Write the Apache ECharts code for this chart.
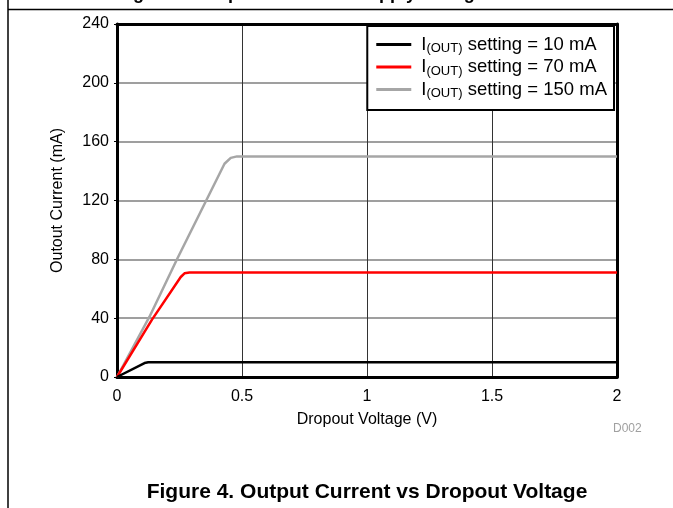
<!DOCTYPE html>
<html>
<head>
<meta charset="utf-8">
<style>
  html, body { margin: 0; padding: 0; background: #fff; }
  #chart { width: 673px; height: 508px; }
</style>
<script src="https://cdn.jsdelivr.net/npm/echarts@6/dist/echarts.min.js"></script>
</head>
<body>
<div id="chart"></div>
<script>
// 数据：电压 (V) 与输出电流 (mA)
const settings = ['10 mA', '70 mA', '150 mA']
const lineColors = ['#000000', '#ff0000', '#a6a6a6']
const current10 = [[0, 0], [0.11, 9.5], [0.125, 10], [0.14, 10], [2, 10]]
const current70 = [[0, 0], [0.14, 39], [0.255, 68], [0.27, 70.5], [0.29, 71], [2, 71]]
const current150 = [[0, 0], [0.13, 41], [0.24, 80], [0.43, 145], [0.455, 149], [0.48, 150], [2, 150]]
const xTicks = [0, 0.5, 1, 1.5, 2]
const yTicks = [0, 40, 80, 120, 160, 200, 240]

const chart = echarts.init(document.getElementById('chart'))
const font = 'Liberation Sans, Arial, sans-serif'
const seriesData = [current10, current70, current150]

let series = []
for (let i = 0; i < settings.length; i++) {
    series.push({
        name: settings[i],
        type: 'line',
        data: seriesData[i],
        showSymbol: false,
        lineStyle: { color: lineColors[i], width: 2.5, join: 'round' },
        itemStyle: { color: lineColors[i] },
        z: 3 - i
    })
}

// 上方和右侧的边框轴
const frameAxis = {
    type: 'value',
    axisLine: { show: true, onZero: false, lineStyle: { color: '#000', width: 3 } },
    axisTick: { show: false },
    axisLabel: { show: false },
    splitLine: { show: false }
}

const option = {
    animation: false,
    backgroundColor: '#fff',
    grid: {
        left: 117, right: 56, top: 24, bottom: 131
    },
    legend: {
        right: 59, top: 26,
        orient: 'vertical',
        backgroundColor: '#fff',
        borderColor: '#000',
        borderWidth: 2,
        borderRadius: 0,
        padding: [8, 7, 10, 9],
        itemGap: 1.5,
        itemWidth: 35,
        itemHeight: 3,
        icon: 'rect',
        data: settings,
        formatter: name => '{m|I}{s|(OUT)}{m| setting = ' + name + '}',
        textStyle: {
            fontFamily: font,
            color: '#000',
            padding: [0, 0, 0, 5],
            rich: {
                m: { fontSize: 18.5, fontFamily: font, color: '#000', lineHeight: 20 },
                s: { fontSize: 13, fontFamily: font, color: '#000', padding: [8, 0, 0, 0], lineHeight: 20 }
            }
        }
    },
    xAxis: [{
        type: 'value',
        min: 0, max: 2, interval: 0.5,
        name: 'Dropout Voltage (V)',
        nameLocation: 'middle',
        nameGap: 35,
        nameTextStyle: { fontFamily: font, fontSize: 16, color: '#000' },
        axisLine: { show: true, lineStyle: { color: '#000', width: 3 } },
        axisTick: { show: false },
        axisLabel: {
            fontFamily: font, fontSize: 16, color: '#000', margin: 12,
            formatter: v => xTicks.includes(v) ? String(v) : ''
        },
        splitLine: { show: true, lineStyle: { color: '#333', width: 1 } }
    }, Object.assign({ position: 'top', min: 0, max: 2 }, frameAxis)],
    yAxis: [{
        type: 'value',
        min: 0, max: 240, interval: 40,
        name: 'Outout Current (mA)',
        nameLocation: 'middle',
        nameGap: 51,
        nameTextStyle: { fontFamily: font, fontSize: 16, color: '#000' },
        axisLine: { show: true, lineStyle: { color: '#000', width: 3 } },
        axisTick: { show: true, length: 3, lineStyle: { color: '#000' } },
        axisLabel: {
            fontFamily: font, fontSize: 16, color: '#000', margin: 8,
            formatter: v => yTicks.includes(v) ? String(v) : ''
        },
        splitLine: { show: true, lineStyle: { color: '#7f7f7f', width: 1.5 } }
    }, Object.assign({ position: 'right', min: 0, max: 240 }, frameAxis)],
    graphic: [
        { type: 'line', shape: { x1: 8, y1: 0, x2: 8, y2: 508 }, style: { stroke: '#000', lineWidth: 1.5 } },
        { type: 'line', shape: { x1: 8, y1: 9.5, x2: 673, y2: 9.5 }, style: { stroke: '#000', lineWidth: 1.5 } },
        {
            type: 'text', left: 117, top: -15, z: 0,
            style: { text: 'Figure 3. Output Current vs Supply Voltage', font: 'bold 18px ' + font, fill: '#000' }
        },
        {
            type: 'rect', shape: { x: 0, y: 10.3, width: 673, height: 12 }, style: { fill: '#fff' }, z: -1, silent: true
        },
        {
            type: 'text', left: 613, top: 423,
            style: { text: 'D002', font: '12px ' + font, fill: '#a0a0a0' }
        },
        {
            type: 'text', x: 367, y: 492,
            style: {
                text: 'Figure 4. Output Current vs Dropout Voltage', font: 'bold 21px ' + font, fill: '#000',
                textAlign: 'center', textVerticalAlign: 'middle'
            }
        }
    ],
    series: series
}

chart.setOption(option)
</script>
</body>
</html>
